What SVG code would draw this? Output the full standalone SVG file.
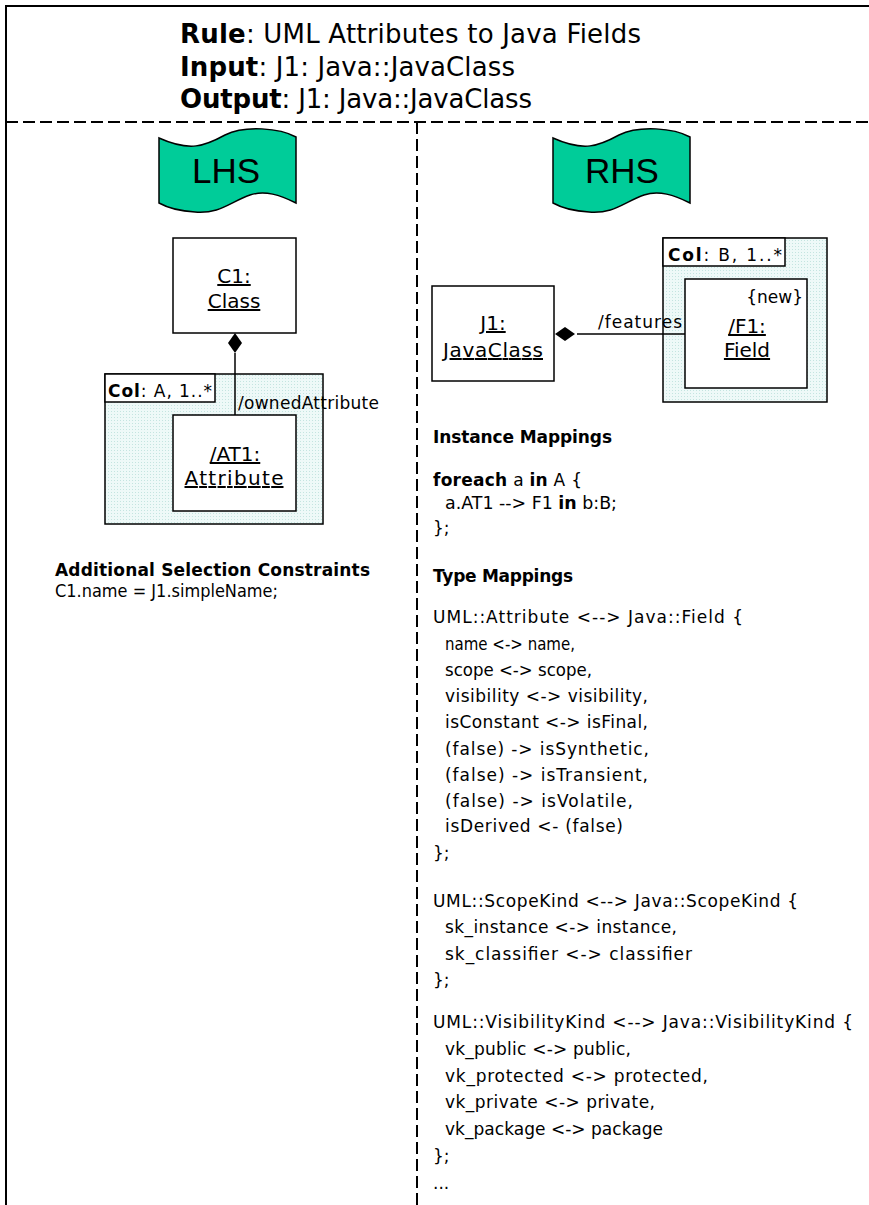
<svg xmlns="http://www.w3.org/2000/svg" width="869" height="1205" viewBox="0 0 869 1205">
  <style>
    .t { font-family: "DejaVu Sans", "Liberation Sans", sans-serif; fill: #000; }
    .b { font-weight: bold; }
    .title { font-size: 26px; }
    .code { font-size: 17px; }
    .lbl { font-size: 20px; text-anchor: middle; text-decoration: underline; }
    .small { font-size: 17px; }
    .banner-text { font-family: "Liberation Sans", Arial, sans-serif; font-size: 35px; text-anchor: middle; fill: #000; }
    .box { fill: #fff; stroke: #000; stroke-width: 1.5; }
    .col { fill: url(#dots); stroke: #000; stroke-width: 1.5; }
    .frame { stroke: #000; stroke-width: 2; fill: none; }
    .dash { stroke: #000; stroke-width: 2; stroke-dasharray: 12 5; fill: none; }
    .wire { stroke: #000; stroke-width: 1.5; fill: none; }
    .banner { fill: #00cc99; stroke: #000; stroke-width: 1.5; }
  </style>
  <defs>
    <pattern id="dots" width="3" height="3" patternUnits="userSpaceOnUse">
      <rect width="3" height="3" fill="#eef9f8"/>
      <rect width="1" height="1" fill="#c4e4e0"/>
    </pattern>
    <path id="flag" d="M159,138 C190,152 205,146 225,135 C245,125 280,128 296,137 L296,203 C280,195 265,190 250,195 C230,202 220,214 195,212 C178,211 168,208 159,203 Z"/>
    <path id="diamond" d="M0,0 L7,10 L0,20 L-7,10 Z"/>
  </defs>

  <!-- frame and section dividers -->
  <g id="frame">
    <path class="frame" d="M6,1205 V6 H869"/>
    <path class="dash" d="M6,122 H869"/>
    <path class="dash" d="M417,122 V1205"/>
  </g>

  <!-- rule header -->
  <g id="header">
    <text class="t title" x="180" y="43" textLength="461" lengthAdjust="spacing"><tspan class="b">Rule</tspan>: UML Attributes to Java Fields</text>
    <text class="t title" x="180" y="76" textLength="335" lengthAdjust="spacing"><tspan class="b">Input</tspan>: J1: Java::JavaClass</text>
    <text class="t title" x="180" y="108" textLength="352" lengthAdjust="spacing"><tspan class="b">Output</tspan>: J1: Java::JavaClass</text>
  </g>

  <!-- banners -->
  <g id="lhs-banner">
    <use href="#flag" class="banner"/>
    <text class="banner-text" x="226" y="183">LHS</text>
  </g>
  <g id="rhs-banner">
    <use href="#flag" class="banner" transform="translate(394,0)"/>
    <text class="banner-text" x="622" y="183">RHS</text>
  </g>

  <!-- left-hand side pattern -->
  <g id="c1">
    <rect class="box" x="173" y="238" width="123" height="95"/>
    <text class="t lbl" x="234" y="283">C1:</text>
    <text class="t lbl" x="234" y="308">Class</text>
  </g>
  <g id="col-a">
    <rect class="col" x="105" y="374" width="218" height="150"/>
    <rect class="box" x="105" y="374" width="110" height="28"/>
    <text class="t small" x="108" y="397" textLength="104" lengthAdjust="spacing"><tspan class="b">Col</tspan>: A, 1..*</text>
  </g>
  <g id="at1">
    <rect class="box" x="173" y="415" width="123" height="96"/>
    <text class="t lbl" x="235" y="461">/AT1:</text>
    <text class="t lbl" x="234" y="485" textLength="99" lengthAdjust="spacing">Attribute</text>
  </g>

  <!-- right-hand side pattern -->
  <g id="j1">
    <rect class="box" x="432" y="286" width="122" height="95"/>
    <text class="t lbl" x="493" y="330">J1:</text>
    <text class="t lbl" x="493" y="357" textLength="100" lengthAdjust="spacing">JavaClass</text>
  </g>
  <g id="col-b">
    <rect class="col" x="663" y="238" width="164" height="164"/>
    <rect class="box" x="663" y="238" width="122" height="28"/>
    <text class="t small" x="668" y="261" textLength="114" lengthAdjust="spacing"><tspan class="b">Col</tspan>: B, 1..*</text>
  </g>
  <g id="f1">
    <rect class="box" x="685" y="279" width="122" height="109"/>
    <text class="t small" x="803" y="303" text-anchor="end">{new}</text>
    <text class="t lbl" x="747" y="333">/F1:</text>
    <text class="t lbl" x="747" y="357">Field</text>
  </g>

  <!-- composition links -->
  <g id="connectors">
    <path class="wire" d="M235,353 V415"/>
    <use href="#diamond" transform="translate(235,333)"/>
    <text class="t small" x="238" y="409" textLength="141" lengthAdjust="spacing">/ownedAttribute</text>
    <path class="wire" d="M577,334 H685"/>
    <use href="#diamond" transform="translate(555,334) rotate(-90)"/>
    <text class="t small" x="598" y="328" textLength="84" lengthAdjust="spacing">/features</text>
  </g>

  <!-- selection constraints -->
  <g id="constraints">
    <text class="t code b" x="55" y="576" textLength="315" lengthAdjust="spacing">Additional Selection Constraints</text>
    <text class="t code" x="55" y="597" textLength="223" lengthAdjust="spacingAndGlyphs">C1.name = J1.simpleName;</text>
  </g>

  <!-- instance and type mappings -->
  <g id="mappings">
    <text class="t code b" x="433" y="443" textLength="179" lengthAdjust="spacing">Instance Mappings</text>
    <text class="t code" x="433" y="486" textLength="149" lengthAdjust="spacing"><tspan class="b">foreach</tspan> a <tspan class="b">in</tspan> A {</text>
    <text class="t code" x="445" y="509" textLength="172" lengthAdjust="spacingAndGlyphs">a.AT1 --&gt; F1 <tspan class="b">in</tspan> b:B;</text>
    <text class="t code" x="433" y="534">};</text>

    <text class="t code b" x="433" y="582" textLength="140" lengthAdjust="spacing">Type Mappings</text>

    <text class="t code" x="433" y="623" textLength="310" lengthAdjust="spacing">UML::Attribute &lt;--&gt; Java::Field {</text>
    <text class="t code" x="445" y="650" textLength="130" lengthAdjust="spacingAndGlyphs">name &lt;-&gt; name,</text>
    <text class="t code" x="445" y="676" textLength="147" lengthAdjust="spacingAndGlyphs">scope &lt;-&gt; scope,</text>
    <text class="t code" x="445" y="702" textLength="203" lengthAdjust="spacing">visibility &lt;-&gt; visibility,</text>
    <text class="t code" x="445" y="728" textLength="203" lengthAdjust="spacing">isConstant &lt;-&gt; isFinal,</text>
    <text class="t code" x="445" y="755" textLength="204" lengthAdjust="spacing">(false) -&gt; isSynthetic,</text>
    <text class="t code" x="445" y="781" textLength="203" lengthAdjust="spacing">(false) -&gt; isTransient,</text>
    <text class="t code" x="445" y="807" textLength="188" lengthAdjust="spacing">(false) -&gt; isVolatile,</text>
    <text class="t code" x="445" y="832" textLength="178" lengthAdjust="spacing">isDerived &lt;- (false)</text>
    <text class="t code" x="433" y="859">};</text>

    <text class="t code" x="433" y="907" textLength="365" lengthAdjust="spacing">UML::ScopeKind &lt;--&gt; Java::ScopeKind {</text>
    <text class="t code" x="445" y="933" textLength="232" lengthAdjust="spacing">sk_instance &lt;-&gt; instance,</text>
    <text class="t code" x="445" y="960" textLength="247" lengthAdjust="spacing">sk_classifier &lt;-&gt; classifier</text>
    <text class="t code" x="433" y="986">};</text>

    <text class="t code" x="433" y="1028" textLength="420" lengthAdjust="spacing">UML::VisibilityKind &lt;--&gt; Java::VisibilityKind {</text>
    <text class="t code" x="445" y="1055" textLength="186" lengthAdjust="spacing">vk_public &lt;-&gt; public,</text>
    <text class="t code" x="445" y="1082" textLength="263" lengthAdjust="spacing">vk_protected &lt;-&gt; protected,</text>
    <text class="t code" x="445" y="1108" textLength="210" lengthAdjust="spacing">vk_private &lt;-&gt; private,</text>
    <text class="t code" x="445" y="1135" textLength="218" lengthAdjust="spacing">vk_package &lt;-&gt; package</text>
    <text class="t code" x="433" y="1162">};</text>
    <text class="t code" x="433" y="1189">...</text>
  </g>
</svg>
